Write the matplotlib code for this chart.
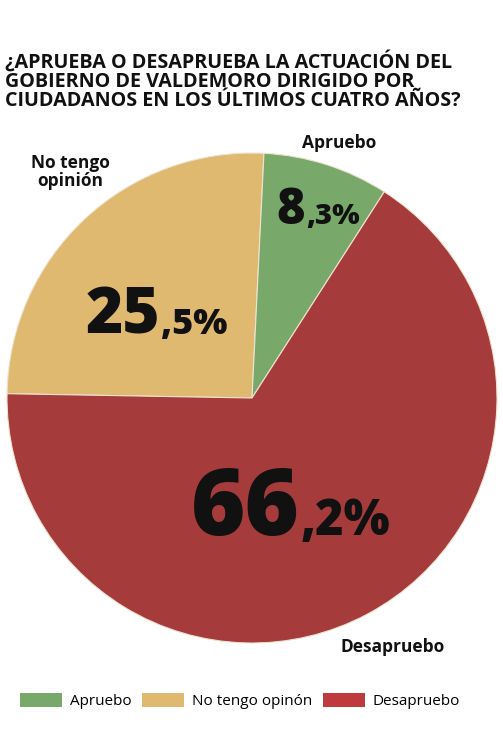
import matplotlib.pyplot as plt
from matplotlib.patches import Patch

W, H = 503, 735

categories = ['No tengo opinión', 'Apruebo', 'Desapruebo']
values = [25.5, 8.3, 66.2]
colors = ['#dfb96f', '#78a96b', '#a63b3b']

legend_labels = ['Apruebo', 'No tengo opinón', 'Desapruebo']
legend_colors = ['#78a96b', '#dfb96f', '#bf3a3d']

title = ('¿APRUEBA O DESAPRUEBA LA ACTUACIÓN DEL\n'
         'GOBIERNO DE VALDEMORO DIRIGIDO POR\n'
         'CIUDADANOS EN LOS ÚLTIMOS CUATRO AÑOS?')

plt.rcParams['font.family'] = ['Open Sans', 'DejaVu Sans']


def px(x, y):
    # pixel coords (from top-left) -> figure fraction
    return x / W, 1 - y / H


fig = plt.figure(figsize=(W / 100, H / 100), dpi=100)
fig.patch.set_facecolor('white')

# pie axes: centre ~(252, 398), radius ~245 px
cx, cy, r = 252, 398, 245
ax = fig.add_axes([(cx - r) / W, 1 - (cy + r) / H, 2 * r / W, 2 * r / H])
ax.pie(values, colors=colors, startangle=179, counterclock=False, radius=1,
       wedgeprops=dict(edgecolor='#efe3cf', linewidth=0.8))
ax.set_xlim(-1, 1)
ax.set_ylim(-1, 1)
ax.set_aspect('auto')
ax.axis('off')

fig.text(*px(5, 51), title, fontsize=14.2, fontweight='bold', va='top',
         ha='left', linespacing=0.93, color='#111111')

# category labels
fig.text(*px(339, 148), 'Apruebo', fontsize=12.5, fontweight='bold',
         ha='center', va='baseline', color='#111111')
fig.text(*px(70, 172), 'No tengo\nopinión', fontsize=12.5, fontweight='bold',
         ha='center', va='center', linespacing=1.0, color='#111111')
fig.text(*px(393, 652), 'Desapruebo', fontsize=12.5, fontweight='bold',
         ha='center', va='baseline', color='#111111')


def pct(x, y, value, big, small):
    whole, dec = f'{value:.1f}'.split('.')
    fig.text(*px(x, y), whole, fontsize=big, fontweight='heavy',
             ha='right', va='baseline', color='#111111')
    fig.text(*px(x + 1, y), ',' + dec + '%', fontsize=small, fontweight='heavy',
             ha='left', va='baseline', color='#111111')


pct(305, 224, values[1], 35, 21)
pct(160, 334, values[0], 46, 26)
pct(300, 535, values[2], 67, 35)

handles = [Patch(facecolor=c, edgecolor='none') for c in legend_colors]
fig.legend(handles, legend_labels, loc='center', bbox_to_anchor=px(240, 701),
           ncol=3, frameon=False, fontsize=11, handlelength=2.75,
           handleheight=1.05, handletextpad=0.5, columnspacing=0.7)

fig.savefig('out.png', dpi=100)
